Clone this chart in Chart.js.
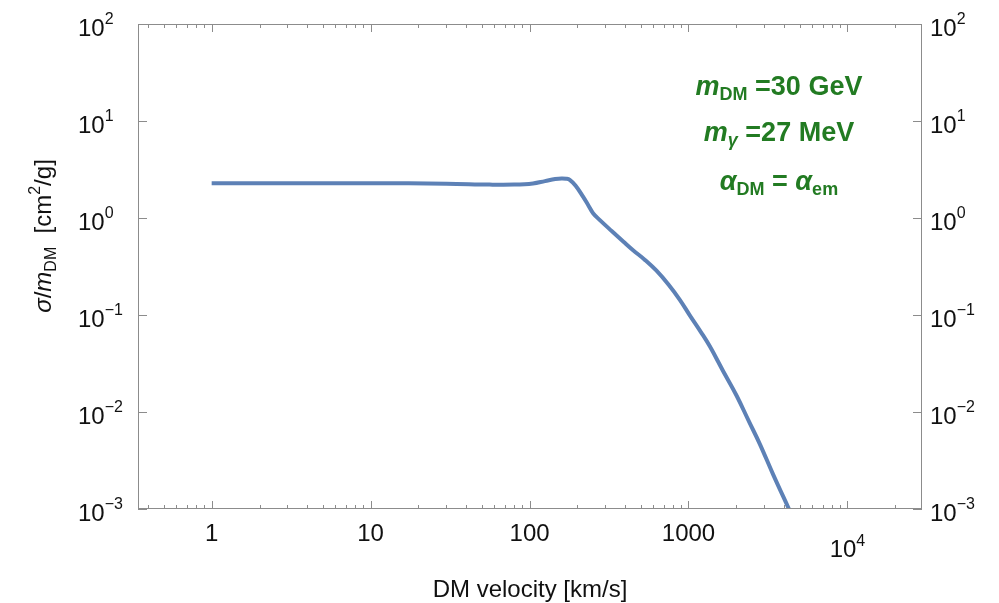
<!DOCTYPE html>
<html>
<head>
<meta charset="utf-8">
<script src="https://cdn.jsdelivr.net/npm/chart.js@4"></script>
<style>
  html, body { margin: 0; padding: 0; background: #fff; }
  canvas { display: block; }
</style>
</head>
<body>
<canvas id="chart" width="999" height="603"></canvas>
<script>
// DM velocity [km/s]
const velocity = [1, 3, 10, 30, 56, 80, 105, 125, 145, 159, 170, 179, 195, 217, 235, 251, 277, 330, 390, 448, 530, 629, 750, 882, 1019, 1200, 1362, 1650, 2005, 2400, 2807, 3400, 4285];
// sigma / m_DM [cm^2/g]
const crossSection = [2.28, 2.28, 2.28, 2.26, 2.21, 2.21, 2.27, 2.40, 2.52, 2.56, 2.54, 2.47, 2.15, 1.66, 1.34, 1.12, 0.95, 0.73, 0.57, 0.466, 0.372, 0.286, 0.205, 0.1435, 0.0993, 0.0663, 0.0475, 0.0265, 0.0148, 0.0080, 0.0047, 0.00229, 0.001];

const xMajor = [1, 10, 100, 1000, 10000];
const xLabels = ["1", "10", "100", "1000", ["10", "4"]];
const yMajor = [100, 10, 1, 0.1, 0.01, 0.001];
const yExponents = ["2", "1", "0", "\u22121", "\u22122", "\u22123"];

const FONT = "'Liberation Sans', Arial, Helvetica, sans-serif";
const FRAME = "#8c8c8c";
const GREEN = "#227b22";

// draw a run of text pieces with different sizes/styles/offsets
function richWidth(ctx, parts) {
  let w = 0;
  parts.forEach(p => {
    ctx.font = (p.style || "") + " " + p.size + "px " + FONT;
    w += ctx.measureText(p.t).width;
  });
  return w;
}
function drawRich(ctx, parts, x, y, align) {
  let w = richWidth(ctx, parts);
  let cx = align === "center" ? x - w / 2 : align === "right" ? x - w : x;
  ctx.textBaseline = "alphabetic";
  ctx.textAlign = "left";
  parts.forEach(p => {
    ctx.font = (p.style || "") + " " + p.size + "px " + FONT;
    ctx.fillText(p.t, cx, y + (p.dy || 0));
    cx += ctx.measureText(p.t).width;
  });
}

const framePlugin = {
  id: "frame",
  afterDraw(chart) {
    const ctx = chart.ctx;
    const area = chart.chartArea;
    const xs = chart.scales.x;
    const ys = chart.scales.y;
    ctx.save();

    // frame
    ctx.strokeStyle = FRAME;
    ctx.lineWidth = 1;
    ctx.strokeRect(area.left + 0.5, area.top + 0.5, area.right - area.left - 1, area.bottom - area.top - 1);

    // x ticks top and bottom, pointing inward
    ctx.beginPath();
    for (let d = -1; d <= 4; d++) {
      for (let m = 1; m <= 9; m++) {
        const v = m * Math.pow(10, d);
        if (v < xs.min || v > xs.max) continue;
        const px = Math.round(xs.getPixelForValue(v)) + 0.5;
        const len = m === 1 ? 8 : 4;
        ctx.moveTo(px, area.bottom);
        ctx.lineTo(px, area.bottom - len);
        ctx.moveTo(px, area.top);
        ctx.lineTo(px, area.top + len);
      }
    }
    // y ticks left and right
    yMajor.forEach(v => {
      const py = Math.round(ys.getPixelForValue(v)) + 0.5;
      ctx.moveTo(area.left, py);
      ctx.lineTo(area.left + 9, py);
      ctx.moveTo(area.right, py);
      ctx.lineTo(area.right - 9, py);
    });
    ctx.stroke();

    ctx.fillStyle = "#111";
    // x tick labels
    xMajor.forEach((v, i) => {
      const px = xs.getPixelForValue(v);
      const lab = xLabels[i];
      if (Array.isArray(lab)) {
        drawRich(ctx, [{t: lab[0], size: 24}, {t: lab[1], size: 16, dy: -11}], px, 557, "center");
      } else {
        drawRich(ctx, [{t: lab, size: 24}], px, 541, "center");
      }
    });
    // y tick labels, both sides
    yMajor.forEach((v, i) => {
      const py = ys.getPixelForValue(v);
      const parts = [{t: "10", size: 24}, {t: yExponents[i], size: 16, dy: -12}];
      drawRich(ctx, parts, 78, py + 12, "left");
      drawRich(ctx, parts, 930, py + 12, "left");
    });

    // x axis title
    drawRich(ctx, [{t: "DM velocity [km/s]", size: 24}], (area.left + area.right) / 2, 597, "center");

    // y axis title (rotated)
    ctx.save();
    ctx.translate(51, 236);
    ctx.rotate(-Math.PI / 2);
    drawRich(ctx, [
      {t: "\u03C3", size: 24, style: "italic"},
      {t: "/", size: 24},
      {t: "m", size: 24, style: "italic"},
      {t: "DM", size: 16, dy: 5},
      {t: "  [cm", size: 24},
      {t: "2", size: 16, dy: -11},
      {t: "/g]", size: 24}
    ], 0, 0, "center");
    ctx.restore();

    // parameter labels
    ctx.fillStyle = GREEN;
    const cx = 779;
    drawRich(ctx, [
      {t: "m", size: 27, style: "italic bold"},
      {t: "DM", size: 18, style: "bold", dy: 5},
      {t: " =30 GeV", size: 27, style: "bold"}
    ], cx, 95, "center");
    drawRich(ctx, [
      {t: "m", size: 27, style: "italic bold"},
      {t: "\u03B3", size: 18, style: "italic bold", dy: 5},
      {t: " =27 MeV", size: 27, style: "bold"}
    ], cx, 141, "center");
    drawRich(ctx, [
      {t: "\u03B1", size: 27, style: "italic bold"},
      {t: "DM", size: 18, style: "bold", dy: 5},
      {t: " = ", size: 27, style: "bold"},
      {t: "\u03B1", size: 27, style: "italic bold"},
      {t: "em", size: 18, style: "bold", dy: 5}
    ], cx, 190, "center");

    ctx.restore();
  }
};

const points = velocity.map((v, i) => ({x: v, y: crossSection[i]}));

new Chart(document.getElementById("chart").getContext("2d"), {
  type: "line",
  data: {
    datasets: [{
      data: points,
      borderColor: "#5d81b6",
      borderWidth: 4,
      pointRadius: 0,
      fill: false,
      tension: 0.4
    }]
  },
  options: {
    responsive: false,
    animation: false,
    devicePixelRatio: 1,
    layout: { padding: { left: 138, top: 24, right: 77, bottom: 94 } },
    plugins: { legend: { display: false }, tooltip: { enabled: false } },
    scales: {
      x: { type: "logarithmic", bounds: "data", min: 0.344, max: 29450, display: false },
      y: { type: "logarithmic", bounds: "data", min: 0.001, max: 100, display: false }
    }
  },
  plugins: [framePlugin]
});
</script>
</body>
</html>
